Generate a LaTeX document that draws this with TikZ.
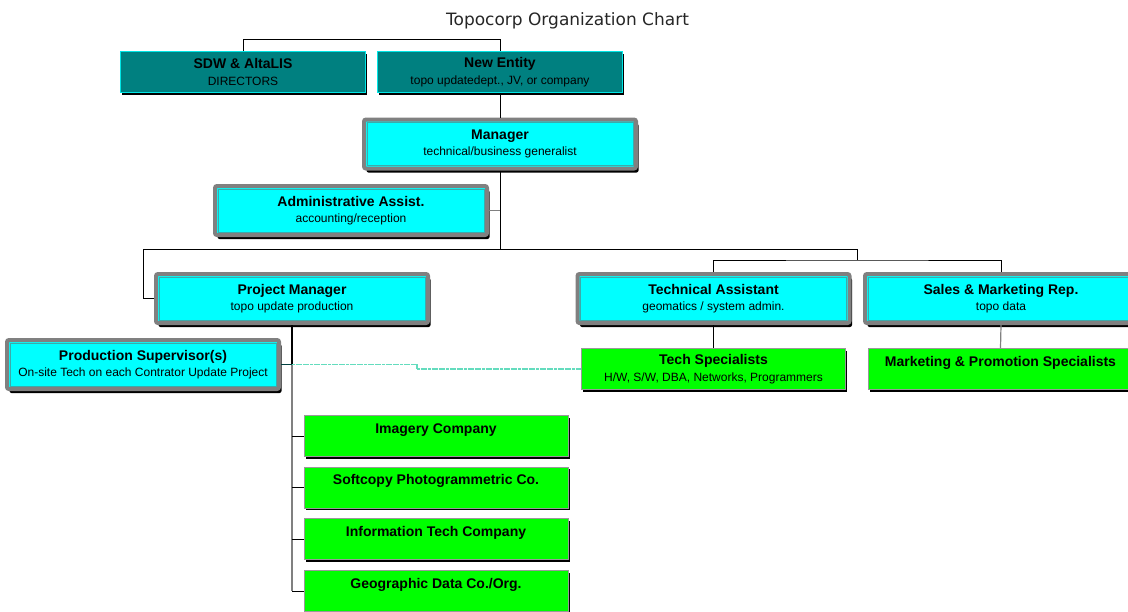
\documentclass[tikz,border=0pt]{standalone}
\usepackage{fontspec}
\setmainfont{Liberation Sans}
\newfontfamily\headfont{DejaVu Sans}
\usepackage{tikz}
\usetikzlibrary{calc,shadows}

\definecolor{orgteal}{RGB}{0,128,128}
\definecolor{orgcyan}{RGB}{0,255,255}
\definecolor{orggray}{RGB}{128,128,128}
\definecolor{orgline}{RGB}{60,170,170}
\definecolor{orggreen}{RGB}{0,255,0}
\definecolor{orgdots}{RGB}{100,220,190}

\newcommand{\hd}[1]{{\fontsize{14}{16.5}\selectfont\bfseries #1}}

\tikzset{
  unit/.style={align=center, inner sep=0pt, font=\fontsize{12}{16.5}\selectfont},
  topbox/.style={unit, draw=orgcyan!80!orgteal, line width=1pt, fill=orgteal,
    minimum width=245pt, minimum height=41pt,
    drop shadow={shadow xshift=1.5pt, shadow yshift=-2pt, fill=black, opacity=1}},
  framebox/.style={unit, draw=orggray, line width=4pt, fill=orgcyan, rounded corners=2pt,
    minimum width=272pt, minimum height=49pt,
    drop shadow={shadow xshift=2.5pt, shadow yshift=-4pt, fill=black, opacity=1}},
  greenbox/.style={unit, draw=orggray!80, line width=1pt, fill=orggreen,
    minimum width=264pt, minimum height=41pt,
    drop shadow={shadow xshift=1.5pt, shadow yshift=-2pt, fill=black, opacity=1}},
  oneline/.style={text height=10pt, text depth=16pt},
  innerline/.style={draw=orgline, line width=0.8pt},
  link/.style={draw=black, line width=1pt},
  graylink/.style={draw=orggray, line width=1.2pt},
  dotlink/.style={draw=orgdots, line width=1.2pt, dash pattern=on 3pt off 0.6pt}
}

\begin{document}
\begin{tikzpicture}[x=1pt,y=-1pt]
  \useasboundingbox (0,0) rectangle (1128,611);

  % Title
  \node[font=\headfont\fontsize{17}{20}\selectfont, text=black!85, anchor=base] (title) at (567.5,25) {Topocorp Organization Chart};

  % Owners
  \node[topbox] (sdw) at (243,72) {\hd{SDW \& AltaLIS}\\ DIRECTORS};
  \node[topbox] (ne)  at (500,72) {\hd{New Entity}\\ topo updatedept., JV, or company};

  % Management
  \node[framebox] (mgr) at (500,144)   {\hd{Manager}\\ technical/business generalist};
  \node[framebox] (adm) at (351,210.5) {\hd{Administrative Assist.}\\ accounting/reception};
  \node[framebox] (pm)  at (292,298.5) {\hd{Project Manager}\\ topo update production};
  \node[framebox] (ta)  at (713.5,298.5) {\hd{Technical Assistant}\\ geomatics / system admin.};
  \node[framebox] (smr) at (1001,298.5) {\hd{Sales \& Marketing Rep.}\\ topo data};
  \node[framebox] (ps)  at (143,364.5) {\hd{Production Supervisor(s)}\\ On-site Tech on each Contrator Update Project};
  \foreach \n in {mgr,adm,pm,ta,smr,ps}
    \draw[innerline] ($(\n.north west)+(5,5)$) rectangle ($(\n.south east)+(-5,-5)$);

  % Specialists
  \node[greenbox] (ts)  at (713.5,369) {\hd{Tech Specialists}\\ H/W, S/W, DBA, Networks, Programmers};
  \node[greenbox, oneline] (mps) at (1000.5,369) {\hd{Marketing \& Promotion Specialists}};

  % Contractors
  \node[greenbox, oneline] (img)  at (436,436)   {\hd{Imagery Company}};
  \node[greenbox, oneline] (soft) at (436,487.5) {\hd{Softcopy Photogrammetric Co.}};
  \node[greenbox, oneline] (info) at (436,539)   {\hd{Information Tech Company}};
  \node[greenbox, oneline] (geo)  at (436,591)   {\hd{Geographic Data Co./Org.}};

  % Connectors
  \draw[link] (sdw.north) -- ++(0,-12) -| (ne.north);
  \draw[link] (ne.south) -- (mgr.north);
  \coordinate (hub) at (500,249.5);
  \coordinate (lft) at (143.5,249.5);
  \coordinate (rgt) at (857,249.5);
  \draw[link] (mgr.south) -- (hub);
  \draw[graylink] (adm.east) -- (adm.east -| hub);
  \draw[link] (pm.west) -| (lft) -- (rgt) -- ++(0,10.5) coordinate (rgtb);
  \draw[link] (ta.north) |- (rgtb) -| (smr.north);
  \draw[link] (ta.south) -- (ts.north);
  \draw[graylink] (smr.south) -- (mps.north);

  \coordinate (spine) at (pm.south |- ps.east);
  \draw[graylink] (spine) -- (spine |- geo.west);
  \draw[link, line width=1.6pt] (pm.south) -- (spine);
  \draw[graylink, draw=orgteal!50!black] (ps.east) -- (spine);
  \foreach \c in {img,soft,info,geo}
    \draw[link] (spine |- \c.west) -- (\c.west);

  \coordinate (jog) at (417,0);
  \draw[dotlink] (spine) -| (jog |- ts.west) -- (ts.west);
\end{tikzpicture}
\end{document}
